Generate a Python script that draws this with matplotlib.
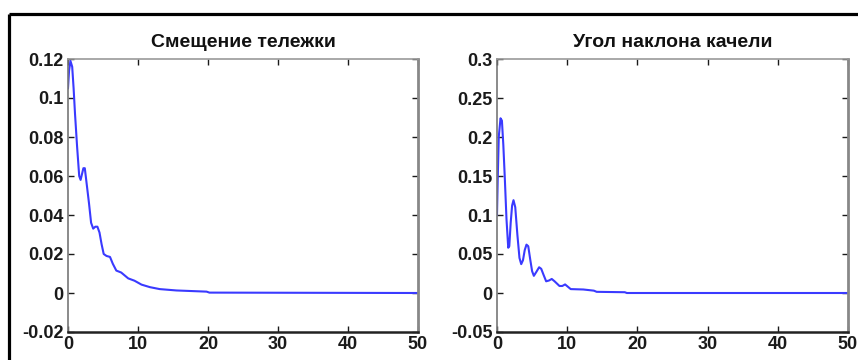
import matplotlib
matplotlib.use("Agg")
import matplotlib.pyplot as plt
from matplotlib.lines import Line2D

# --- data ---
t_cart = [0, 0.15, 0.35, 0.6, 0.8, 1.0, 1.3, 1.6, 1.8, 2.0, 2.2, 2.4, 2.7, 3.0, 3.3, 3.6,
          3.9, 4.2, 4.5, 4.8, 5.1, 5.5, 6.0, 6.4, 6.9, 7.6, 8.6, 9.5, 10.5, 11.7, 13.1,
          15.5, 19.8, 20.2, 50]
y_cart = [0.105, 0.114, 0.119, 0.116, 0.105, 0.092, 0.075, 0.060, 0.058, 0.061, 0.064,
          0.064, 0.055, 0.046, 0.036, 0.033, 0.034, 0.034, 0.031, 0.025, 0.020, 0.019,
          0.0185, 0.015, 0.0115, 0.0105, 0.0075, 0.0063, 0.0043, 0.003, 0.002, 0.0013,
          0.0007, 0.0002, 0.0]

t_angle = [0, 0.1, 0.25, 0.5, 0.7, 0.9, 1.1, 1.35, 1.6, 1.75, 1.95, 2.15, 2.35, 2.6, 2.9,
           3.2, 3.45, 3.7, 3.95, 4.2, 4.45, 4.75, 5.0, 5.25, 5.6, 6.0, 6.3, 6.6, 7.0, 7.4,
           7.8, 8.2, 8.9, 9.3, 9.7, 10.1, 10.5, 12.3, 13.8, 14.2, 18.2, 18.5, 50]
y_angle = [0.100, 0.145, 0.200, 0.224, 0.221, 0.190, 0.150, 0.095, 0.058, 0.060, 0.090,
           0.112, 0.119, 0.110, 0.075, 0.045, 0.037, 0.042, 0.055, 0.062, 0.060, 0.042,
           0.028, 0.022, 0.027, 0.033, 0.031, 0.024, 0.015, 0.016, 0.018, 0.015, 0.009,
           0.009, 0.011, 0.008, 0.005, 0.0045, 0.003, 0.0015, 0.001, 0.0, 0.0]

titles = ["Смещение тележки", "Угол наклона качели"]
xticks = [0, 10, 20, 30, 40, 50]
yticks_cart = [-0.02, 0, 0.02, 0.04, 0.06, 0.08, 0.1, 0.12]
ylabels_cart = ["-0.02", "0", "0.02", "0.04", "0.06", "0.08", "0.1", "0.12"]
yticks_angle = [-0.05, 0, 0.05, 0.1, 0.15, 0.2, 0.25, 0.3]
ylabels_angle = ["-0.05", "0", "0.05", "0.1", "0.15", "0.2", "0.25", "0.3"]

plt.rcParams['font.family'] = ['Liberation Sans', 'DejaVu Sans']

W, H = 858, 360
fig = plt.figure(figsize=(W / 100, H / 100), dpi=100)
fig.patch.set_facecolor("white")

def px_axes(x0, x1, ytop, ybot):
    return [x0 / W, 1 - ybot / H, (x1 - x0) / W, (ybot - ytop) / H]

ax1 = fig.add_axes(px_axes(68, 418, 59, 332))
ax2 = fig.add_axes(px_axes(497, 848, 59, 332))

specs = [
    (ax1, t_cart, y_cart, titles[0], (-0.02, 0.12), yticks_cart, ylabels_cart),
    (ax2, t_angle, y_angle, titles[1], (-0.05, 0.3), yticks_angle, ylabels_angle),
]

for ax, t, y, title, ylim, yt, yl in specs:
    ax.plot(t, y, color="#3a3aff", lw=1.5)
    ax.set_xlim(0, 50)
    ax.set_ylim(*ylim)
    ax.set_xticks(xticks)
    ax.set_xticklabels([str(v) for v in xticks])
    ax.set_yticks(yt)
    ax.set_yticklabels(yl)
    ax.tick_params(direction="in", length=4, width=1, top=True, right=True,
                   labelsize=13, colors="#1a1a1a", pad=3)
    for lab in ax.get_xticklabels() + ax.get_yticklabels():
        lab.set_fontweight("bold")
    ax.set_title(title, fontsize=14, fontweight="bold", pad=9, color="#111111")
    ax.spines["bottom"].set_color("#222222")
    ax.spines["bottom"].set_linewidth(1.8)
    ax.spines["left"].set_color("#777777")
    ax.spines["left"].set_linewidth(1.2)
    ax.spines["right"].set_color("#888888")
    ax.spines["right"].set_linewidth(2.0)
    ax.spines["top"].set_color("#999999")
    ax.spines["top"].set_linewidth(1.2)

# figure border lines (top and left)
ytop = 1 - 13.5 / H
xleft = 8.5 / W
fig.add_artist(Line2D([xleft, 1.0], [ytop, ytop], transform=fig.transFigure,
                      color="black", lw=2.3, solid_capstyle="butt"))
fig.add_artist(Line2D([xleft, xleft], [0, ytop], transform=fig.transFigure,
                      color="black", lw=2.3, solid_capstyle="butt"))

fig.savefig("out.png", dpi=100, facecolor="white")
